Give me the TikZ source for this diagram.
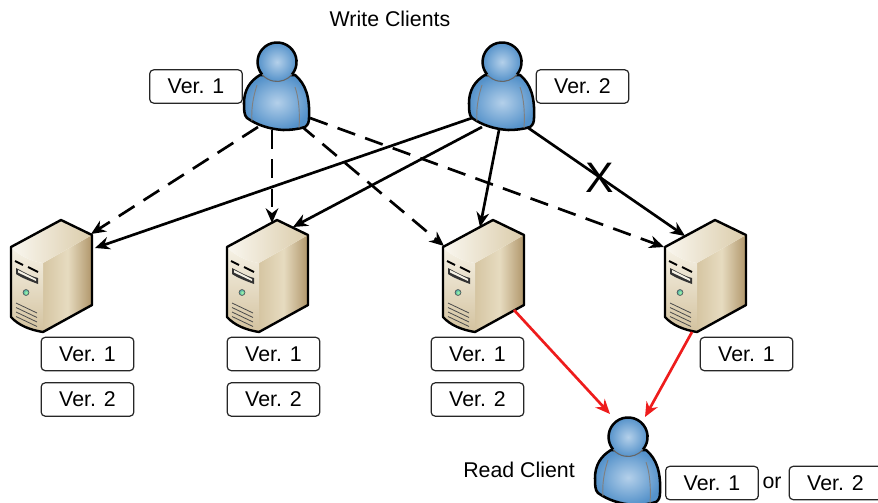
\documentclass[tikz,border=0pt]{standalone}
\usepackage{fontspec}
\setmainfont{Liberation Sans}
\usetikzlibrary{arrows.meta}
\definecolor{pblue}{HTML}{5592CA}
\definecolor{plight}{HTML}{B4D0EA}
\definecolor{stan}{HTML}{B0966A}
\definecolor{sbeige}{HTML}{E2D5B5}
\definecolor{scream}{HTML}{F6F2E6}
\definecolor{redline}{HTML}{EE1C1C}
\tikzset{
  x=0.75pt,y=-0.75pt,
  verbox/.style={draw=black!85,line width=0.9pt,rounded corners=3pt,fill=white,minimum width=69.5pt,minimum height=25pt,inner sep=0pt,font=\fontsize{16}{18}\selectfont},
  lab/.style={font=\fontsize{16}{18}\selectfont,inner sep=0pt},
  dashconn/.style={line width=2pt,dash pattern=on 14pt off 8pt,-{Stealth[length=11pt,width=9.5pt]}},
  solidconn/.style={line width=2pt,-{Stealth[length=11pt,width=9.5pt]}},
  redconn/.style={line width=2pt,draw=redline,-{Stealth[length=11pt,width=9.5pt]},color=redline},
  person/.pic={
    \path[inner color=plight,outer color=pblue,draw=black,line width=1.9pt,line join=round]
      (-17,13) .. controls (-27,19) and (-33,28) .. (-33,41)
      .. controls (-33,48) and (-33,53) .. (-30,56)
      .. controls (-20,63) and (-8,67) .. (6,68)
      .. controls (14,68) and (22,67) .. (28,65)
      .. controls (31,63) and (32,60) .. (32,56)
      .. controls (33,36) and (29,22) .. (18,13) -- cycle;
    \draw[black!50,line width=0.7pt] (-20,23) .. controls (-24,35) and (-26,48) .. (-25,59);
    \draw[black!50,line width=0.7pt] (18,25) .. controls (22,36) and (23,52) .. (22,66);
    \path[inner color=plight,outer color=pblue] (0,0) circle[radius=19.5];
    \draw[black,line width=1.9pt] (15,12.5) arc[x radius=19.5,y radius=-19.5,start angle=-40,end angle=220];
    \draw[black!60,line width=0.8pt] (15,12.5) arc[x radius=19.5,y radius=-19.5,start angle=-40,end angle=-140];
  },
  server/.pic={
    % right face
    \path[left color=sbeige!75!stan,right color=stan,middle color=sbeige!85!white] (43,263) -- (92,235) -- (92,305) -- (43,332) -- cycle;
    % front face
    \path[top color=scream,bottom color=sbeige!70!stan] (11,247) .. controls (18,255) and (30,261) .. (43,263) -- (43,332) .. controls (30,330) and (18,325) .. (11,317) -- cycle;
    % top face
    \path[left color=scream!60!white,right color=sbeige!85!stan] (11,247) -- (61,220) -- (92,235) -- (43,263) .. controls (30,261) and (18,255) .. (11,247) -- cycle;
    \draw[black,line width=1.8pt,line join=round] (11,247) -- (61,220) -- (92,235) -- (92,305) -- (43,332) .. controls (30,330) and (18,325) .. (11,317) -- cycle;
    % slots
    \draw[black,line width=1.5pt] (15,261) -- (23,265) (28,267) -- (38,272);
    \fill[black!80] (16,268) .. controls (24,272) and (30,276) .. (38,278) -- (38,284) .. controls (30,281) and (22,278) .. (16,274) -- cycle;
    \fill[scream] (18,270) -- (36,279) -- (36,281) -- (18,272.5) -- cycle;
    \shade[inner color=green!35!white,outer color=teal!70!white,draw=black!70,line width=0.4pt] (26,292.5) circle[radius=3];
    \draw[black!70,line width=0.6pt] (16,303) -- (37,313) (16,307.5) -- (37,317.5) (16,312) -- (37,322) (16,316.5) -- (37,326.5);
  }
}
\begin{document}
\begin{tikzpicture}
\useasboundingbox (0,0) rectangle (878,503);

% anchor coordinates
\coordinate (wa1) at (258,127); \coordinate (wa2) at (272,130);
\coordinate (wa3) at (300,125); \coordinate (wa4) at (310,118);
\coordinate (wb1) at (472,118); \coordinate (wb2) at (482,127);
\coordinate (wb3) at (499,130); \coordinate (wb4) at (524,125);
\coordinate (s1d) at (91,234); \coordinate (s1e) at (95,248);
\coordinate (s2d) at (272,223); \coordinate (s2e) at (293,227);
\coordinate (s3d) at (444,246); \coordinate (s3e) at (480,227);
\coordinate (s4d) at (664,247); \coordinate (s4e) at (685,236);
\coordinate (s3r) at (514,310); \coordinate (s4r) at (692,332);
\coordinate (rc1) at (610,414); \coordinate (rc2) at (645,417);

\pic at (0,0) {server};
\pic at (216,0) {server};
\pic at (432,0) {server};
\pic at (654,0) {server};

\draw[dashconn] (wa1) -- (s1d);
\draw[dashconn] (wa2) -- (s2d);
\draw[dashconn] (wa3) -- (s3d);
\draw[dashconn] (wa4) -- (s4d);
\draw[solidconn] (wb1) -- (s1e);
\draw[solidconn] (wb2) -- (s2e);
\draw[solidconn] (wb3) -- (s3e);
\draw[solidconn] (wb4) -- (s4e);

\draw[redconn] (s3r) -- (rc1);
\draw[redconn] (s4r) -- (rc2);

\pic at (277,62) {person};
\pic at (502,62) {person};
\pic at (628,437) {person};

\node[lab] (title) at (390,19) {Write Clients};
\node[lab] (read) at (519,470) {Read Client};
\node[font=\fontsize{32}{34}\selectfont,inner sep=0pt] (x) at (600,178) {X};

\node[verbox] (w1v) at (196,86.5) {Ver. 1};
\node[verbox] (w2v) at (582.5,86.5) {Ver. 2};
\node[verbox] (s1a) at (87.5,354) {Ver. 1};
\node[verbox] (s1b) at (87.5,399.5) {Ver. 2};
\node[verbox] (s2a) at (273.5,354) {Ver. 1};
\node[verbox] (s2b) at (273.5,399.5) {Ver. 2};
\node[verbox] (s3a) at (477.5,354) {Ver. 1};
\node[verbox] (s3b) at (477.5,399.5) {Ver. 2};
\node[verbox] (s4a) at (746.5,354) {Ver. 1};
\node[verbox] (r1) at (712,483) {Ver. 1};
\node[lab] (or) at (772,483) {or};
\node[verbox] (r2) at (835.5,483) {Ver. 2};
\end{tikzpicture}
\end{document}
